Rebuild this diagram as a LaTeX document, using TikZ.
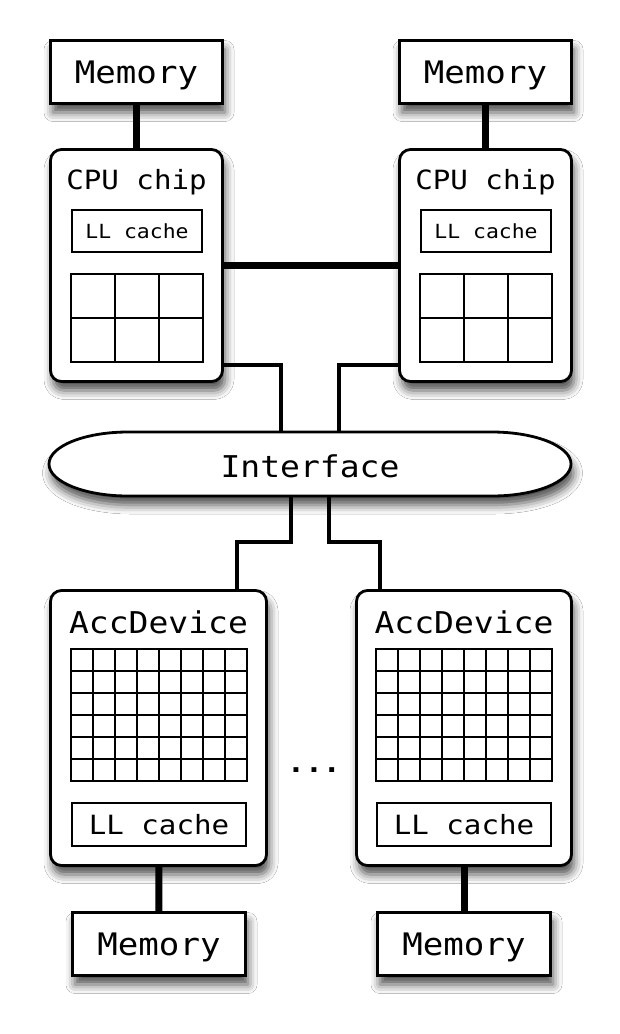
\documentclass[tikz,border=0pt]{standalone}
\usepackage{fontspec}
\setmonofont[FakeStretch=1.1]{DejaVu Sans Mono}
\usetikzlibrary{shadows.blur}
\begin{document}
\begin{tikzpicture}[x=1pt,y=-1pt,
  shd/.style={blur shadow={shadow xshift=2.5pt, shadow yshift=-9pt, shadow blur radius=9pt, shadow opacity=70}},
  fmem/.style={font=\ttfamily\fontsize{31}{31}\selectfont, text height=22.6pt, text depth=0pt},
  fbig/.style={font=\ttfamily\fontsize{30}{30}\selectfont},
  fchip/.style={font=\ttfamily\fontsize{26.5}{26.5}\selectfont},
  fllbig/.style={font=\ttfamily\fontsize{26.5}{26.5}\selectfont, text height=19.3pt, text depth=0pt},
  fllsmall/.style={font=\ttfamily\fontsize{19.5}{19.5}\selectfont, text height=14.2pt, text depth=0pt},
  membox/.style={draw, line width=2.8pt, fill=white, shd, fmem, inner sep=0pt, minimum width=172pt, minimum height=63pt},
  chipbox/.style={draw, line width=2.8pt, fill=white, shd, rounded corners=11pt, inner sep=0pt},
  llbox/.style={draw, line width=2pt, fill=white, inner sep=0pt},
  cell/.style={line width=2pt},
  bus/.style={line width=7pt},
  wire/.style={line width=3.8pt},
  ]
\useasboundingbox (0,0) rectangle (620,1034);
\fill[white] (0,0) rectangle (620,1034);

% ---------- top: memories and CPU chips
\node[membox] (mem1) at (136.5,72) {Memory};
\node[membox] (mem2) at (485.5,72) {Memory};
\node[chipbox, minimum width=172pt, minimum height=232pt] (cpu1) at (136.5,265.5) {};
\node[chipbox, minimum width=172pt, minimum height=232pt] (cpu2) at (485.5,265.5) {};
\node[fchip, anchor=base] (t1) at (136.5,189) {CPU chip};
\node[fchip, anchor=base] (t2) at (485.5,189) {CPU chip};
\node[llbox, fllsmall, minimum width=130pt, minimum height=42pt] (ll1) at (137,231) {LL cache};
\node[llbox, fllsmall, minimum width=130pt, minimum height=42pt] (ll2) at (486,231) {LL cache};
\foreach \ox in {71,420}{
  \foreach \i in {0,1,2,3} \draw[cell] (\ox+44*\i,274) -- (\ox+44*\i,362);
  \foreach \j in {0,1,2} \draw[cell] (\ox-1,274+44*\j) -- (\ox+133,274+44*\j);
}

% ---------- interface
\draw[line width=2.8pt, fill=white, shd]
  (128,432) -- (492,432) arc[start angle=-90, end angle=90, x radius=79, y radius=32]
  -- (128,496) arc[start angle=90, end angle=270, x radius=79, y radius=32] -- cycle;
\node[inner sep=0pt, minimum width=524pt, minimum height=64pt] (iface) at (310,464) {};
\node[fbig, anchor=base] (tif) at (310,477) {Interface};

% ---------- accelerator devices
\node[chipbox, minimum width=216pt, minimum height=275pt] (acc1) at (158.5,728) {};
\node[chipbox, minimum width=215pt, minimum height=275pt] (acc2) at (464,728) {};
\node[fbig, anchor=base] (ta1) at (158.5,633) {AccDevice};
\node[fbig, anchor=base] (ta2) at (464,633) {AccDevice};
\foreach \ox in {71,376}{
  \foreach \i in {0,...,8} \draw[cell] (\ox+22*\i,649) -- (\ox+22*\i,781);
  \foreach \j in {0,...,6} \draw[cell] (\ox-1,649+22*\j) -- (\ox+177,649+22*\j);
}
\node[llbox, fllbig, minimum width=174pt, minimum height=43pt] (ll3) at (159,824.5) {LL cache};
\node[llbox, fllbig, minimum width=174pt, minimum height=43pt] (ll4) at (464,824.5) {LL cache};
\node[membox, minimum width=173pt] (mem3) at (159,944) {Memory};
\node[membox, minimum width=173pt] (mem4) at (464,944) {Memory};
\node[font=\ttfamily\bfseries\fontsize{27}{27}\selectfont, anchor=base] (dots) at (314,772) {...};

% ---------- connectors
\draw[bus] (mem1) -- (cpu1);
\draw[bus] (mem2) -- (cpu2);
\draw[bus] (cpu1.east) -- (cpu2.west);
\draw[bus] (acc1) -- (mem3);
\draw[bus] (acc2) -- (mem4);

\coordinate (x1) at (281,0);
\coordinate (x2) at (339,0);
\coordinate (x3) at (291,0);
\coordinate (x4) at (329,0);
\coordinate (b1) at (237,542);
\coordinate (b2) at (380,542);
\draw[wire] ([yshift=18pt]cpu1.south east) -| (iface.north -| x1);
\draw[wire] ([yshift=18pt]cpu2.south west) -| (iface.north -| x2);
\draw[wire] (iface.south -| x3) |- (b1) -- (acc1.north -| b1);
\draw[wire] (iface.south -| x4) |- (b2) -- (acc2.north -| b2);
\end{tikzpicture}
\end{document}
